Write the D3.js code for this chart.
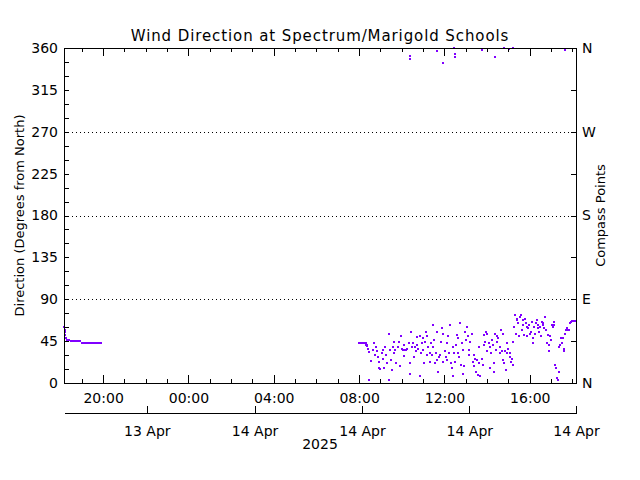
<!DOCTYPE html>
<html>
<head>
<meta charset="utf-8">
<title>Wind Direction at Spectrum/Marigold Schools</title>
<script src="https://d3js.org/d3.v7.min.js"></script>
<style>
  body { margin: 0; background: #fff; }
  text { font-family: "DejaVu Sans", sans-serif; fill: #000; }
  .axis path, .axis line { stroke: #000; shape-rendering: crispEdges; }
</style>
</head>
<body>
<script>

// ---- data ----
var xStart = "2025-04-13 18:10",
    xEnd   = "2025-04-14 18:10";

var hourTicks  = ["2025-04-13 20:00", "2025-04-14 00:00", "2025-04-14 04:00",
                  "2025-04-14 08:00", "2025-04-14 12:00", "2025-04-14 16:00"];
var dateTicks  = ["2025-04-13 22:03", "2025-04-14 03:06", "2025-04-14 08:08",
                  "2025-04-14 13:10", "2025-04-14 18:10"];
var dateLabels = ["13 Apr", "14 Apr", "14 Apr", "14 Apr", "14 Apr"];
var yearLabel  = "2025";

var degTicks     = [0, 45, 90, 135, 180, 225, 270, 315, 360];
var compassTicks = [0, 90, 180, 270, 360];
var compassNames = ["N", "E", "S", "W", "N"];
var gridLines    = [90, 180, 270];

// evening of 13 Apr
var eveTimes = ["18:11","18:12","18:13","18:14","18:16","18:18","18:20","18:25","18:30",
                "18:35","18:40","18:45","18:50","18:55","19:00","19:05","19:10","19:15",
                "19:20","19:25","19:30","19:35","19:40","19:45","19:50","19:55"];
var eveDirs  = [60, 57, 55, 52, 48, 46, 46, 46, 45, 45, 45, 45, 45, 45, 43, 43, 43, 43,
                43, 43, 43, 43, 43, 43, 43, 43];

// 14 Apr
var dayTimes = [
  "08:00","08:02","08:04","08:06","08:08","08:10","08:12","08:14","08:16","08:18",
  "08:19","08:21","08:23","08:26","08:28","08:29","08:33","08:40","08:43","08:45",
  "08:47","08:50","08:53","08:56","08:57","08:59","09:04","09:06","09:08","09:10",
  "09:13","09:16","09:18","09:23","09:24","09:27","09:29","09:32","09:35","09:37",
  "09:38","09:41","09:44","09:48","09:51","09:55","09:57","10:00","10:03","10:05",
  "10:07","10:09","10:12","10:14","10:19","10:22","10:23","10:25","10:28","10:31",
  "10:33","10:38","10:40","10:42","10:44","10:47","10:50","10:52","10:53","10:56",
  "10:59","11:01","11:03","11:06","11:08","11:10","11:12","11:15","11:18","11:20",
  "11:22","11:24","11:27","11:29","11:31","11:34","11:37","11:38","11:40","11:43",
  "11:46","11:48","11:50","11:53","11:55","11:57","12:02","12:05","12:07","12:08",
  "12:11","12:14","12:16","12:18","12:21","12:23","12:25","12:27","12:30","12:33",
  "12:35","12:37","12:39","12:42","12:44","12:46","12:49","12:52","12:53","12:55",
  "12:58","13:01","13:03","13:05","13:08","13:10","13:12","13:17","13:20","13:22",
  "13:23","13:26","13:29","13:31","13:33","13:36","13:38","13:40","13:45","13:48",
  "13:50","13:52","13:54","13:57","13:59","14:01","14:04","14:07","14:08","14:10",
  "14:13","14:16","14:18","14:20","14:23","14:25","14:27","14:29","14:32","14:35",
  "14:37","14:38","14:41","14:44","14:46","14:48","14:51","14:53","14:55","14:57",
  "15:00","15:03","15:05","15:07","15:09","15:12","15:14","15:16","15:19","15:22",
  "15:23","15:25","15:28","15:31","15:33","15:35","15:38","15:40","15:42","15:44",
  "15:47","15:50","15:52","15:53","15:56","15:59","16:01","16:03","16:06","16:08",
  "16:10","16:12","16:15","16:18","16:20","16:22","16:24","16:27","16:29","16:31",
  "16:34","16:37","16:38","16:40","16:43","16:46","16:48","16:50","16:53","16:55",
  "16:57","16:59","17:02","17:05","17:07","17:08","17:11","17:14","17:16","17:18",
  "17:21","17:23","17:25","17:27","17:30","17:33","17:35","17:37","17:39","17:42",
  "17:44","17:46","17:49","17:52","17:53","17:56","17:58","18:00","18:02","18:05",
  "18:07","18:09"];
var dayDirs = [
  43, 43, 43, 43, 43, 43, 43, 43, 43, 43,
  41, 40, 41, 37,  3, 33, 24, 35, 43, 30,
  39, 34, 28, 23, 16, 15, 32, 35, 26, 16,
  39, 30, 21,  3, 53, 35, 25, 14, 39, 44,
  32, 35, 21, 39, 44, 18, 50, 37, 35, 29,
  41, 35, 35, 37, 43, 21, 10, 55, 39, 43,
  28, 39, 34, 49, 41, 37,  8, 50, 32, 43,
  35, 48, 21, 44, 55, 30, 50, 39, 32, 23,
  43, 30, 62, 39, 46, 21, 32, 55, 25, 12,
  28, 30, 44, 59, 53, 23, 34, 28, 25, 43,
  50, 32, 62, 21, 16,  7, 39, 32, 23, 41,
  52, 48, 32, 28, 64, 19, 43, 35, 10, 18,
  55, 46, 60, 50, 30, 35, 44, 53, 23, 30,
  18, 26, 12, 25,  9, 21, 39,  7, 26, 19,
  52, 41, 44, 55, 53, 34, 43, 16, 39, 32,
  46, 41, 21, 12, 53, 35, 44, 50, 48, 32,
  39, 57, 34, 53, 25, 21, 34, 14, 32, 43,
  37, 32, 28, 23, 26, 19, 44, 60, 73, 53,
  68, 69, 64, 50, 71, 73, 57, 68, 62, 52,
  69, 64, 60, 50, 59, 62, 53, 55, 66, 43,
  48, 60, 53, 64, 68, 59, 62, 55, 60, 50,
  66, 62, 64, 59, 71, 57, 43, 52, 34, 41,
  50, 46, 62, 60, 66, 62, 19, 16,  5,  3,
  39, 12, 41, 48, 43, 48, 37, 34, 53, 57,
  57, 59, 57, 64, 65, 66, 67, 67, 67, 67,
  67, 67];

// wrap-around readings near north
var northTimes = ["10:22","10:24","11:38","11:55","12:28","12:29","12:30","13:45","14:22","14:48","15:02","15:12","17:38"];
var northDirs  = [351, 348, 356.8, 344, 359.7, 354, 350.6, 358, 350.6, 359.6, 359, 359.6, 358];

// ---- layout ----
var W = 640, H = 480;
var plot = { left: 64, right: 576, top: 48, bottom: 383 };
var dateAxisY = 413;
var purple = "#8000ff";

var parseFull = d3.timeParse("%Y-%m-%d %H:%M");
function onDay(day, hm) { return parseFull(day + " " + hm); }

var x = d3.scaleTime()
    .domain([parseFull(xStart), parseFull(xEnd)])
    .range([plot.left, plot.right]);

var y = d3.scaleLinear()
    .domain([0, 360])
    .range([plot.bottom, plot.top]);

var points = [];
eveTimes.forEach(function (t, i) { points.push({ t: onDay("2025-04-13", t), v: eveDirs[i] }); });
dayTimes.forEach(function (t, i) { points.push({ t: onDay("2025-04-14", t), v: dayDirs[i] }); });
northTimes.forEach(function (t, i) { points.push({ t: onDay("2025-04-14", t), v: northDirs[i] }); });
points = points.filter(d => d.t && d.v != null);

var svg = d3.select("body").append("svg")
    .attr("width", W)
    .attr("height", H)
    .style("display", "block");

svg.append("rect").attr("width", W).attr("height", H).attr("fill", "#fff");

// dotted grid
svg.selectAll(".grid")
    .data(gridLines)
    .enter()
    .append("line")
    .attr("class", "grid")
    .attr("x1", plot.left)
    .attr("x2", plot.right)
    .attr("y1", d => Math.round(y(d)) + 0.5)
    .attr("y2", d => Math.round(y(d)) + 0.5)
    .attr("stroke", "#000")
    .attr("stroke-dasharray", "1,3");

// points
svg.selectAll(".pt")
    .data(points)
    .enter()
    .append("rect")
    .attr("class", "pt")
    .attr("x", d => Math.round(x(d.t)) - 1)
    .attr("y", d => Math.round(y(d.v)) - 1)
    .attr("width", 2)
    .attr("height", 2)
    .attr("fill", purple);

var fmtHour = d3.timeFormat("%H:%M");
var hourDates = hourTicks.map(parseFull);
var minorHours = d3.timeHour.every(1).range(parseFull(xStart), parseFull(xEnd));

// bottom axis: labelled 4-hourly ticks + hourly minor ticks
svg.append("g")
    .attr("class", "axis")
    .attr("transform", "translate(0," + plot.bottom + ")")
    .call(d3.axisBottom(x).tickValues(minorHours).tickSize(-4).tickSizeOuter(0).tickFormat(""));
svg.append("g")
    .attr("class", "axis")
    .attr("transform", "translate(0," + plot.bottom + ")")
    .call(d3.axisBottom(x).tickValues(hourDates).tickSize(-8).tickSizeOuter(0)
        .tickPadding(10).tickFormat(fmtHour))
    .call(g => g.select(".domain").remove());

// top axis
svg.append("g")
    .attr("class", "axis")
    .attr("transform", "translate(0," + plot.top + ")")
    .call(d3.axisTop(x).tickValues(minorHours).tickSize(-4).tickSizeOuter(0).tickFormat(""));
svg.append("g")
    .attr("class", "axis")
    .attr("transform", "translate(0," + plot.top + ")")
    .call(d3.axisTop(x).tickValues(hourDates).tickSize(-8).tickSizeOuter(0).tickFormat(""))
    .call(g => g.select(".domain").remove());

// left axis
svg.append("g")
    .attr("class", "axis")
    .attr("transform", "translate(" + plot.left + ",0)")
    .call(d3.axisLeft(y).tickValues(d3.range(0, 361, 15)).tickSize(-5).tickSizeOuter(0).tickFormat(""));
svg.append("g")
    .attr("class", "axis")
    .attr("transform", "translate(" + plot.left + ",0)")
    .call(d3.axisLeft(y).tickValues(degTicks).tickSize(0).tickPadding(6).tickFormat(d3.format("d")))
    .call(g => g.select(".domain").remove());

// right axis (compass points)
svg.append("g")
    .attr("class", "axis")
    .attr("transform", "translate(" + plot.right + ",0)")
    .call(d3.axisRight(y).tickValues(degTicks).tickSize(-5).tickSizeOuter(0).tickFormat(""));
svg.append("g")
    .attr("class", "axis")
    .attr("transform", "translate(" + plot.right + ",0)")
    .call(d3.axisRight(y).tickValues(compassTicks).tickSize(0).tickPadding(6)
        .tickFormat((d, i) => compassNames[i]))
    .call(g => g.select(".domain").remove());

// date axis below
svg.append("g")
    .attr("class", "axis")
    .attr("transform", "translate(0," + dateAxisY + ")")
    .call(d3.axisBottom(x).tickValues(dateTicks.map(parseFull)).tickSize(-7).tickSizeOuter(0)
        .tickPadding(13).tickFormat((d, i) => dateLabels[i]));

svg.selectAll(".axis text").style("font-size", "14px");

svg.append("text")
    .attr("x", (plot.left + plot.right) / 2)
    .attr("y", 449)
    .attr("text-anchor", "middle")
    .style("font-size", "14px")
    .text(yearLabel);

// titles
svg.append("text")
    .attr("x", (plot.left + plot.right) / 2)
    .attr("y", 41)
    .attr("text-anchor", "middle")
    .style("font-size", "15px")
    .style("letter-spacing", "0.9px")
    .text("Wind Direction at Spectrum/Marigold Schools");

svg.append("text")
    .attr("transform", "translate(24," + (plot.top + plot.bottom) / 2 + ") rotate(-90)")
    .attr("text-anchor", "middle")
    .style("font-size", "13px")
    .text("Direction (Degrees from North)");

svg.append("text")
    .attr("transform", "translate(605," + (plot.top + plot.bottom) / 2 + ") rotate(-90)")
    .attr("text-anchor", "middle")
    .style("font-size", "13px")
    .text("Compass Points");

</script>
</body>
</html>
